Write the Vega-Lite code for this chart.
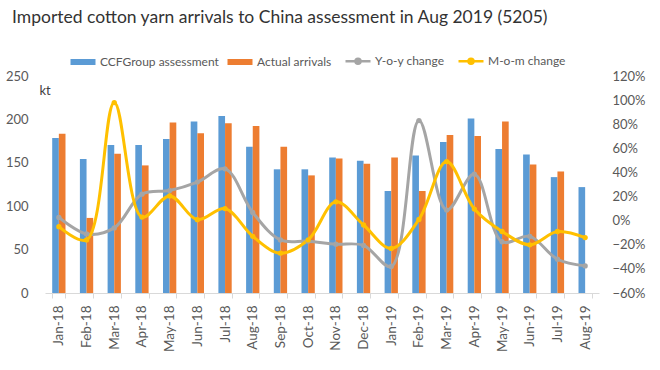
{
  "$schema": "https://vega.github.io/schema/vega-lite/v6.json",
  "autosize": {"type": "none"},
  "width": 554,
  "height": 217,
  "padding": {"left": 45, "top": 76, "right": 61, "bottom": 77},
  "background": "white",
  "config": {"font": "Lato", "view": {"stroke": null}},
  "title": {
    "text": "Imported cotton yarn arrivals to China assessment in Aug 2019 (5205)",
    "anchor": "start",
    "frame": "group",
    "dx": -33,
    "offset": 29,
    "fontSize": 17.5,
    "fontWeight": "normal",
    "color": "#333333"
  },
  "data": {
    "values": [
      {"m": "Jan-18", "s": "CCFGroup assessment", "v": 178.5},
      {"m": "Feb-18", "s": "CCFGroup assessment", "v": 154.5},
      {"m": "Mar-18", "s": "CCFGroup assessment", "v": 170.5},
      {"m": "Apr-18", "s": "CCFGroup assessment", "v": 170.5},
      {"m": "May-18", "s": "CCFGroup assessment", "v": 177.5},
      {"m": "Jun-18", "s": "CCFGroup assessment", "v": 197.5},
      {"m": "Jul-18", "s": "CCFGroup assessment", "v": 204},
      {"m": "Aug-18", "s": "CCFGroup assessment", "v": 168.5},
      {"m": "Sep-18", "s": "CCFGroup assessment", "v": 142.5},
      {"m": "Oct-18", "s": "CCFGroup assessment", "v": 142.5},
      {"m": "Nov-18", "s": "CCFGroup assessment", "v": 156},
      {"m": "Dec-18", "s": "CCFGroup assessment", "v": 152.5},
      {"m": "Jan-19", "s": "CCFGroup assessment", "v": 117.5},
      {"m": "Feb-19", "s": "CCFGroup assessment", "v": 158.5},
      {"m": "Mar-19", "s": "CCFGroup assessment", "v": 174},
      {"m": "Apr-19", "s": "CCFGroup assessment", "v": 201},
      {"m": "May-19", "s": "CCFGroup assessment", "v": 166},
      {"m": "Jun-19", "s": "CCFGroup assessment", "v": 159.5},
      {"m": "Jul-19", "s": "CCFGroup assessment", "v": 133.5},
      {"m": "Aug-19", "s": "CCFGroup assessment", "v": 122},
      {"m": "Jan-18", "s": "Actual arrivals", "v": 183.5},
      {"m": "Feb-18", "s": "Actual arrivals", "v": 86.5},
      {"m": "Mar-18", "s": "Actual arrivals", "v": 160.5},
      {"m": "Apr-18", "s": "Actual arrivals", "v": 147},
      {"m": "May-18", "s": "Actual arrivals", "v": 196.5},
      {"m": "Jun-18", "s": "Actual arrivals", "v": 184},
      {"m": "Jul-18", "s": "Actual arrivals", "v": 195.5},
      {"m": "Aug-18", "s": "Actual arrivals", "v": 192.5},
      {"m": "Sep-18", "s": "Actual arrivals", "v": 168.5},
      {"m": "Oct-18", "s": "Actual arrivals", "v": 135.5},
      {"m": "Nov-18", "s": "Actual arrivals", "v": 155},
      {"m": "Dec-18", "s": "Actual arrivals", "v": 149},
      {"m": "Jan-19", "s": "Actual arrivals", "v": 156},
      {"m": "Feb-19", "s": "Actual arrivals", "v": 117.5},
      {"m": "Mar-19", "s": "Actual arrivals", "v": 182},
      {"m": "Apr-19", "s": "Actual arrivals", "v": 181},
      {"m": "May-19", "s": "Actual arrivals", "v": 197.5},
      {"m": "Jun-19", "s": "Actual arrivals", "v": 148},
      {"m": "Jul-19", "s": "Actual arrivals", "v": 140},
      {"m": "Jan-18", "s": "Y-o-y change", "v": 0.027},
      {"m": "Feb-18", "s": "Y-o-y change", "v": -0.11},
      {"m": "Mar-18", "s": "Y-o-y change", "v": -0.06},
      {"m": "Apr-18", "s": "Y-o-y change", "v": 0.22},
      {"m": "May-18", "s": "Y-o-y change", "v": 0.25},
      {"m": "Jun-18", "s": "Y-o-y change", "v": 0.32},
      {"m": "Jul-18", "s": "Y-o-y change", "v": 0.43},
      {"m": "Aug-18", "s": "Y-o-y change", "v": 0.068},
      {"m": "Sep-18", "s": "Y-o-y change", "v": -0.16},
      {"m": "Oct-18", "s": "Y-o-y change", "v": -0.17},
      {"m": "Nov-18", "s": "Y-o-y change", "v": -0.195},
      {"m": "Dec-18", "s": "Y-o-y change", "v": -0.205},
      {"m": "Jan-19", "s": "Y-o-y change", "v": -0.38},
      {"m": "Feb-19", "s": "Y-o-y change", "v": 0.83},
      {"m": "Mar-19", "s": "Y-o-y change", "v": 0.088},
      {"m": "Apr-19", "s": "Y-o-y change", "v": 0.386},
      {"m": "May-19", "s": "Y-o-y change", "v": -0.175},
      {"m": "Jun-19", "s": "Y-o-y change", "v": -0.13},
      {"m": "Jul-19", "s": "Y-o-y change", "v": -0.32},
      {"m": "Aug-19", "s": "Y-o-y change", "v": -0.375},
      {"m": "Jan-18", "s": "M-o-m change", "v": -0.05},
      {"m": "Feb-18", "s": "M-o-m change", "v": -0.16},
      {"m": "Mar-18", "s": "M-o-m change", "v": 0.98},
      {"m": "Apr-18", "s": "M-o-m change", "v": 0.03},
      {"m": "May-18", "s": "M-o-m change", "v": 0.205},
      {"m": "Jun-18", "s": "M-o-m change", "v": 0.008},
      {"m": "Jul-18", "s": "M-o-m change", "v": 0.1},
      {"m": "Aug-18", "s": "M-o-m change", "v": -0.13},
      {"m": "Sep-18", "s": "M-o-m change", "v": -0.27},
      {"m": "Oct-18", "s": "M-o-m change", "v": -0.16},
      {"m": "Nov-18", "s": "M-o-m change", "v": 0.156},
      {"m": "Dec-18", "s": "M-o-m change", "v": -0.036},
      {"m": "Jan-19", "s": "M-o-m change", "v": -0.23},
      {"m": "Feb-19", "s": "M-o-m change", "v": 0.01},
      {"m": "Mar-19", "s": "M-o-m change", "v": 0.49},
      {"m": "Apr-19", "s": "M-o-m change", "v": 0.096},
      {"m": "May-19", "s": "M-o-m change", "v": -0.09},
      {"m": "Jun-19", "s": "M-o-m change", "v": -0.2},
      {"m": "Jul-19", "s": "M-o-m change", "v": -0.09},
      {"m": "Aug-19", "s": "M-o-m change", "v": -0.14}
    ]
  },
  "encoding": {
    "x": {
      "field": "m",
      "type": "nominal",
      "sort": ["Jan-18", "Feb-18", "Mar-18", "Apr-18", "May-18", "Jun-18", "Jul-18", "Aug-18", "Sep-18", "Oct-18", "Nov-18", "Dec-18", "Jan-19", "Feb-19", "Mar-19", "Apr-19", "May-19", "Jun-19", "Jul-19", "Aug-19"],
      "scale": {"paddingInner": 0.52, "paddingOuter": 0.26},
      "axis": {
        "title": null,
        "labelAngle": -90,
        "labelAlign": "right",
        "labelBaseline": "middle",
        "labelFontSize": 13.5,
        "labelColor": "#595959",
        "labelPadding": 7,
        "domainColor": "#D9D9D9",
        "tickColor": "#D9D9D9",
        "tickBand": "extent",
        "tickSize": 5
      }
    },
    "color": {
      "field": "s",
      "type": "nominal",
      "scale": {
        "domain": ["CCFGroup assessment", "Actual arrivals", "Y-o-y change", "M-o-m change"],
        "range": ["#5B9BD5", "#ED7D31", "#A5A5A5", "#FFC000"]
      },
      "legend": {
        "orient": "none",
        "legendX": 32,
        "legendY": -21,
        "direction": "horizontal",
        "title": null,
        "labelFontSize": 12,
        "labelColor": "#595959",
        "labelOffset": 11,
        "columnPadding": 8,
        "symbolSize": 625,
        "symbolOpacity": 1,
        "encode": {
          "symbols": {
            "update": {
              "shape": {"signal": "indexof(['Y-o-y change','M-o-m change'], datum.value) >= 0 ? 'M-1,0H1M0.2,0A0.2,0.2,0,1,1,-0.2,0A0.2,0.2,0,1,1,0.2,0Z' : 'M-1,-0.24H1V0.24H-1Z'"},
              "strokeWidth": {"signal": "indexof(['Y-o-y change','M-o-m change'], datum.value) >= 0 ? 2.5 : 0"},
              "fill": {"scale": "color", "field": "value"},
              "stroke": {"scale": "color", "field": "value"},
              "fillOpacity": {"value": 1},
              "strokeOpacity": {"value": 1}
            }
          }
        }
      }
    }
  },
  "layer": [
    {
      "transform": [{"filter": {"field": "s", "oneOf": ["CCFGroup assessment", "Actual arrivals"]}}],
      "mark": {"type": "bar"},
      "encoding": {
        "xOffset": {"field": "s", "type": "nominal", "sort": ["CCFGroup assessment", "Actual arrivals"], "scale": {"paddingInner": 0, "paddingOuter": 0}},
        "y": {
          "field": "v",
          "type": "quantitative",
          "scale": {"domain": [0, 250], "nice": false},
          "axis": {
            "title": "kt",
            "titleAngle": 0,
            "titleAlign": "left",
            "titleBaseline": "middle",
            "titleX": -6,
            "titleY": 14,
            "titleFontSize": 13,
            "titleFontWeight": "normal",
            "titleColor": "#404040",
            "values": [0, 50, 100, 150, 200, 250],
            "domain": false,
            "ticks": false,
            "grid": false,
            "labelPadding": 17,
            "labelFontSize": 13,
            "labelColor": "#595959"
          }
        }
      }
    },
    {
      "transform": [{"filter": {"field": "s", "oneOf": ["Y-o-y change", "M-o-m change"]}}],
      "mark": {"type": "line", "interpolate": "catmull-rom", "strokeWidth": 3, "point": {"filled": true, "size": 28, "opacity": 1}},
      "encoding": {
        "y": {
          "field": "v",
          "type": "quantitative",
          "scale": {"domain": [-0.6, 1.2], "nice": false},
          "axis": {
            "orient": "right",
            "title": null,
            "format": ".0%",
            "values": [-0.6, -0.4, -0.2, 0, 0.2, 0.4, 0.6, 0.8, 1.0, 1.2],
            "domain": false,
            "ticks": false,
            "grid": false,
            "labelPadding": 13,
            "labelFontSize": 13,
            "labelColor": "#595959"
          }
        }
      }
    }
  ],
  "resolve": {"scale": {"y": "independent", "xOffset": "independent"}}
}
